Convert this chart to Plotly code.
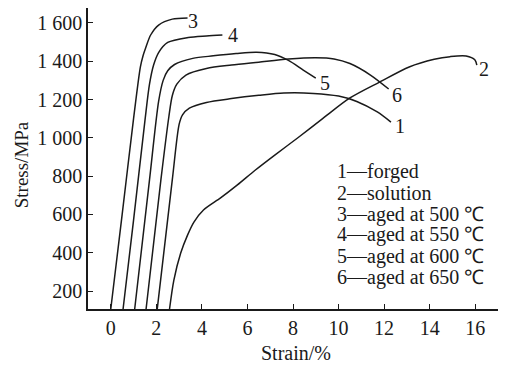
import plotly.graph_objects as go

# ---- data ----
labels = ["1", "2", "3", "4", "5", "6"]
legend_names = ["forged", "solution", "aged at 500 ℃", "aged at 550 ℃",
                "aged at 600 ℃", "aged at 650 ℃"]

strain_1 = [2.04, 2.7, 3.0, 3.15, 3.45, 4.2, 5.3, 6.5, 7.6, 8.9, 10.0, 10.8, 11.7, 12.3]
stress_1 = [106, 780, 1070, 1120, 1155, 1185, 1205, 1222, 1234, 1232, 1218, 1190, 1135, 1082]

strain_2 = [2.58, 2.77, 3.07, 3.37, 3.65, 4.07, 4.82, 5.56, 6.35, 7.2, 8.2, 9.3, 10.5, 11.8,
            13.1, 14.2, 14.9, 15.6, 15.99, 16.07]
stress_2 = [106, 257, 398, 492, 560, 623, 686, 754, 832, 910, 999, 1100, 1208, 1291,
            1370, 1410, 1424, 1427, 1406, 1380]

strain_3 = [0.0, 0.5, 1.0, 1.3, 1.42, 1.53, 1.75, 2.1, 2.7, 3.37]
stress_3 = [106, 600, 1100, 1370, 1430, 1469, 1537, 1589, 1620, 1626]

strain_4 = [0.54, 1.0, 1.5, 1.7, 1.88, 2.1, 2.5, 3.4, 4.2, 4.9]
stress_4 = [106, 570, 1090, 1280, 1380, 1445, 1498, 1524, 1532, 1537]

strain_5 = [1.05, 1.7, 2.1, 2.3, 2.5, 2.8, 3.6, 4.5, 5.5, 6.4, 7.2, 7.8, 8.45, 9.0]
stress_5 = [106, 780, 1190, 1300, 1350, 1383, 1415, 1428, 1440, 1447, 1435, 1404, 1354, 1312]

strain_6 = [1.55, 2.2, 2.55, 2.7, 2.9, 3.3, 4.2, 5.3, 6.5, 7.8, 9.0, 9.8, 10.5, 11.4, 12.2]
stress_6 = [106, 780, 1110, 1220, 1280, 1328, 1362, 1380, 1395, 1411, 1418, 1412, 1388, 1328, 1255]

# curve-number label positions (strain, stress)
label_x = [12.7, 16.4, 3.63, 5.37, 9.4, 12.57]
label_y = [1061, 1359, 1611, 1537, 1287, 1224]

x_ticks = [0, 2, 4, 6, 8, 10, 12, 14, 16]
y_ticks = [200, 400, 600, 800, 1000, 1200, 1400, 1600]
y_ticktext = ["200", "400", "600", "800", "1 000", "1 200", "1 400", "1 600"]

FONT = "Liberation Serif, Times New Roman, serif"
INK = "#1a1a1a"

strains = [strain_1, strain_2, strain_3, strain_4, strain_5, strain_6]
stresses = [stress_1, stress_2, stress_3, stress_4, stress_5, stress_6]

fig = go.Figure()
for sx, sy, name in zip(strains, stresses, legend_names):
    fig.add_trace(go.Scatter(
        x=sx, y=sy, mode="lines", name=name,
        line=dict(color=INK, width=1.5, shape="spline", smoothing=0.8),
        showlegend=False, hoverinfo="skip"))

# curve numbers
for lab, lx, ly in zip(labels, label_x, label_y):
    fig.add_annotation(x=lx, y=ly, text=lab, showarrow=False,
                       font=dict(family=FONT, size=20, color=INK),
                       xanchor="center", yanchor="middle")

# key text block
key_y = [822, 712, 602, 493, 380, 270]
for lab, name, ky in zip(labels, legend_names, key_y):
    fig.add_annotation(x=9.85, y=ky, text=f"{lab}—{name}", showarrow=False,
                       font=dict(family=FONT, size=20, color=INK),
                       xanchor="left", yanchor="middle")

# axis titles
fig.add_annotation(xref="paper", yref="paper", x=-0.163, y=0.478, text="Stress/MPa",
                   textangle=-90, showarrow=False, borderpad=0,
                   font=dict(family=FONT, size=19, color=INK),
                   xanchor="center", yanchor="middle")
fig.add_annotation(xref="paper", yref="paper", x=0.508, y=-0.146, text="Strain/%",
                   showarrow=False, borderpad=0,
                   font=dict(family=FONT, size=20, color=INK),
                   xanchor="center", yanchor="middle")

fig.update_layout(
    width=501, height=362,
    margin=dict(l=80, r=11, t=0, b=61),
    paper_bgcolor="white", plot_bgcolor="white",
    font=dict(family=FONT, color=INK),
    xaxis=dict(range=[-1.0, 17.0], tickvals=x_ticks, ticks="inside", ticklen=5,
               tickwidth=1.2, tickcolor=INK, showline=True, linecolor=INK,
               linewidth=1.5, showgrid=False, zeroline=False, automargin=False,
               tickfont=dict(family=FONT, size=20, color=INK)),
    yaxis=dict(range=[106, 1678], tickvals=y_ticks, ticktext=y_ticktext,
               ticks="inside", ticklen=5, tickwidth=1.2, tickcolor=INK,
               showline=True, linecolor=INK, linewidth=1.5, showgrid=False,
               zeroline=False, automargin=False,
               tickfont=dict(family=FONT, size=20, color=INK)),
)

fig.write_html("out.html")
